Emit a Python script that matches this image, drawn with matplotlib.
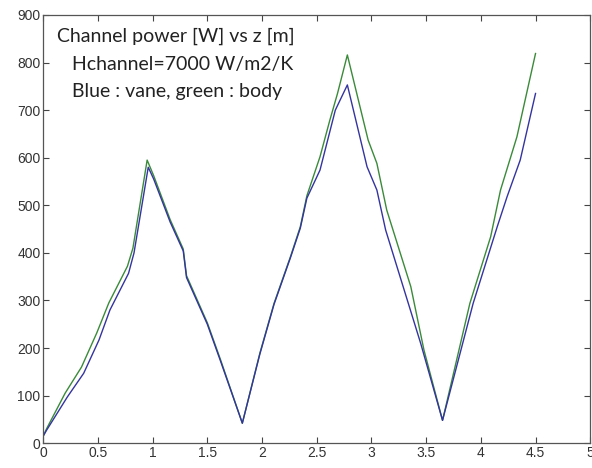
import matplotlib
matplotlib.use('Agg')
import matplotlib.pyplot as plt

# Channel power along z
z_vane = [0.0, 0.03, 0.22, 0.37, 0.51, 0.61, 0.78, 0.83, 0.96, 1.01, 1.16, 1.28, 1.31,
          1.50, 1.62, 1.82, 1.98, 2.11, 2.26, 2.35, 2.41, 2.53, 2.67, 2.78, 2.96, 3.05,
          3.13, 3.29, 3.45, 3.65, 3.93, 4.15, 4.24, 4.36, 4.50]
p_vane = [15, 27, 97, 147, 217, 280, 357, 400, 580, 555, 465, 404, 348,
          250, 173, 42, 187, 292, 390, 452, 515, 574, 700, 753, 581, 532,
          448, 329, 210, 48, 294, 455, 518, 595, 735]

z_body = [0.0, 0.03, 0.20, 0.35, 0.49, 0.60, 0.77, 0.82, 0.95, 1.01, 1.16, 1.28, 1.31,
          1.50, 1.62, 1.82, 1.98, 2.11, 2.26, 2.35, 2.41, 2.53, 2.62, 2.69, 2.78, 2.97,
          3.05, 3.14, 3.36, 3.48, 3.65, 3.90, 4.09, 4.18, 4.33, 4.50]
p_body = [15, 30, 105, 160, 232, 295, 372, 410, 595, 562, 470, 408, 352,
          253, 176, 42, 189, 294, 392, 455, 520, 602, 679, 735, 816, 637,
          588, 490, 329, 196, 48, 294, 434, 532, 644, 819]

note = ['Channel power [W] vs z [m]',
        'Hchannel=7000 W/m2/K',
        'Blue : vane, green : body']

plt.rcParams['font.family'] = ['Liberation Sans', 'DejaVu Sans']

fig = plt.figure(figsize=(5.92, 4.68), dpi=100)
ax = fig.add_axes([0.073, 0.053, 0.924, 0.915])

ax.plot(z_body, p_body, color='#3a8a3a', lw=1.0)
ax.plot(z_vane, p_vane, color='#3434a0', lw=1.0)

ax.set_xlim(0, 5)
ax.set_ylim(0, 900)
ax.set_xticks([0, 0.5, 1, 1.5, 2, 2.5, 3, 3.5, 4, 4.5, 5])
ax.set_xticklabels(['0', '0.5', '1', '1.5', '2', '2.5', '3', '3.5', '4', '4.5', '5'])
ax.set_yticks(range(0, 901, 100))
ax.tick_params(direction='in', top=True, right=True, length=4, width=0.8,
               labelsize=10, labelcolor='#333333', color='#444444', pad=2)
for s in ax.spines.values():
    s.set_color('#555555')
    s.set_linewidth(0.9)

# annotation block, one text per line
for (tx, ty), line in zip([(0.128, 843), (0.265, 784), (0.265, 728)], note):
    ax.text(tx, ty, line, family=['Lato', 'DejaVu Sans'], fontsize=14,
            color='#222222', va='baseline', ha='left')

fig.savefig('out.png', dpi=100)
